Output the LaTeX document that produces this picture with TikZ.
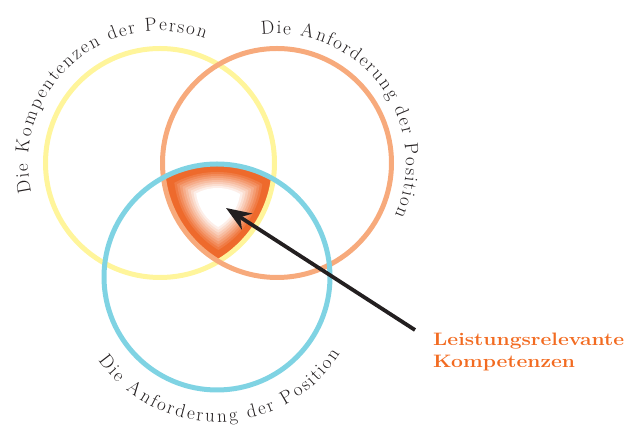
\documentclass[tikz,border=0pt]{standalone}
\usepackage{tikz}
\usetikzlibrary{shapes,arrows.meta,calc,decorations.text,backgrounds}

\definecolor{ringyellow}{HTML}{FFF59B}
\definecolor{ringorange}{HTML}{F7AA7C}
\definecolor{ringblue}{HTML}{7FD3E3}
\definecolor{shadeorange}{HTML}{EE6A2C}
\definecolor{calloutorange}{HTML}{F26B21}
\definecolor{arcgray}{HTML}{231F20}

\newcommand\arcfont{\fontsize{19}{21}\selectfont}
\tikzstyle{ring} = [draw, circle, line width=5pt, minimum size=229pt, inner sep=0pt]
\tikzstyle{arctext} = [decorate, decoration={text effects along path, text effects/.cd, text along path, fit text to path, characters={text=arcgray, font=\arcfont, anchor=base, inner sep=0pt}}]
\tikzstyle{callout} = [text=calloutorange, font=\fontsize{18}{22}\selectfont\bfseries, align=left, inner sep=0pt, anchor=north west, xscale=1.17]

\begin{document}
\begin{tikzpicture}[x=1pt, y=1pt, >={Stealth[length=25pt,width=19pt,inset=8pt]}]
    \useasboundingbox (0,0) rectangle (627,427);

    % Drawing the three rings
    \node [ring, draw=ringyellow] (kompetenz) at (160,264) {};
    \node [ring, draw=ringorange] (anforderung) at (277,264) {};
    \node [ring, draw=ringblue, minimum size=226pt] (position) at (217,150) {};
    \coordinate (mid) at (218,223);
    \coordinate (core) at (226,219);

    % Common area, shrinking copies from orange to white
    \begin{pgfonlayer}{background}
    \foreach \s in {1.00,0.95,...,0.35} {
        \pgfmathsetmacro\pct{max(0,min(100,100*(\s-0.4)/0.45))}
        \begin{scope}
            \clip ($(mid)!\s!(kompetenz.center)$) circle ({\s*114.5pt});
            \clip ($(mid)!\s!(position.center)$) circle ({\s*113pt});
            \fill [shadeorange!\pct!white] ($(mid)!\s!(anforderung.center)$) circle ({\s*114.5pt});
        \end{scope}
    }
    \end{pgfonlayer}

    % Texts round the rings
    \path [arctext, decoration={text={Die Kompentenzen der Person}}]
        ([shift={(193:132pt)}]kompetenz.center) arc [start angle=193, end angle=70, radius=132pt];
    \path [arctext, decoration={text={Die Anforderung der Position}}]
        ([shift={(97:129pt)}]anforderung.center) arc [start angle=97, end angle=-24, radius=129pt];
    \path [arctext, decoration={text={Die Anforderung der Position}}]
        ([shift={(215:145pt)}]position.center) arc [start angle=215, end angle=328, radius=145pt];

    % Callout and arrow
    \node [callout] (leistung) at (433,94) {Leistungsrelevante\\Kompetenzen};
    \coordinate (tail) at ([shift={(-18,3)}]leistung.north west);
    \draw [->, line width=3.8pt, draw=arcgray] (tail) -- (core);
\end{tikzpicture}
\end{document}
